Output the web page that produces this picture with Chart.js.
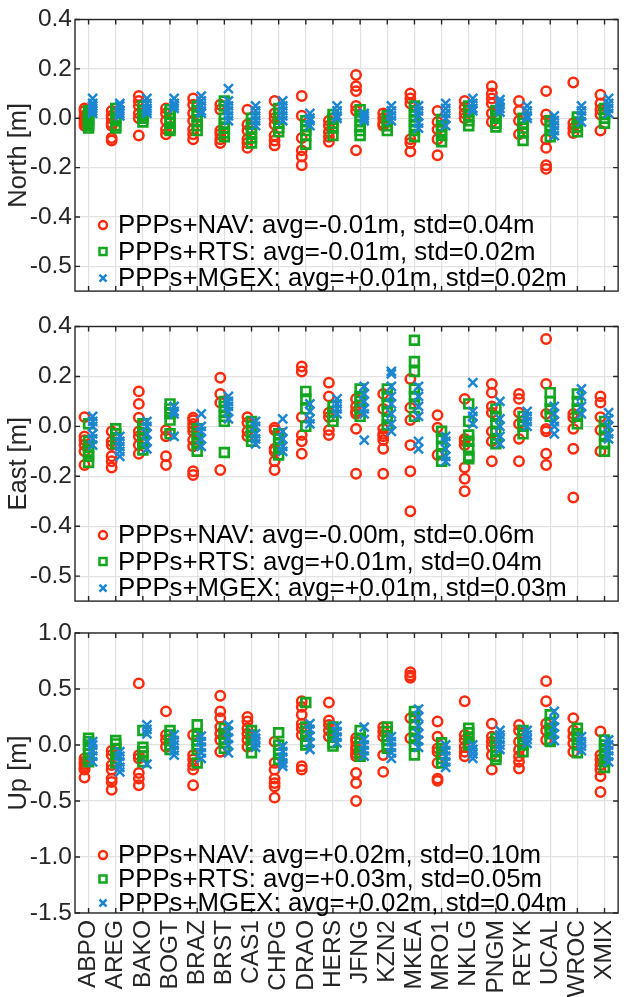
<!DOCTYPE html>
<html>
<head>
<meta charset="utf-8">
<title>PPP station errors</title>
<script src="https://cdn.jsdelivr.net/npm/chart.js@4.4.1/dist/chart.umd.min.js"></script>
<style>
  html, body { margin: 0; padding: 0; background: #fff; }
  #wrap { position: relative; width: 627px; height: 997px; overflow: hidden; }
  #wrap canvas { position: absolute; left: 0; }
</style>
</head>
<body>
<div id="wrap">
  <canvas id="northChart" width="627" height="300" style="top:0px"></canvas>
  <canvas id="eastChart" width="627" height="310" style="top:300px"></canvas>
  <canvas id="upChart" width="627" height="387" style="top:610px"></canvas>
</div>
<script>
// Stations along the x axis
const stations = ['ABPO', 'AREG', 'BAKO', 'BOGT', 'BRAZ', 'BRST', 'CAS1', 'CHPG', 'DRAO', 'HERS',
  'JFNG', 'KZN2', 'MKEA', 'MRO1', 'NKLG', 'PNGM', 'REYK', 'UCAL', 'WROC', 'XMIX'];

// North errors [m], one list per station
const northNav = [
  [0.04, 0.03, 0.01, 0.0, -0.01, -0.02, -0.03],
  [0.03, 0.01, 0.0, -0.02, -0.03, -0.08, -0.09],
  [0.09, 0.07, 0.05, 0.02, 0.0, -0.07],
  [0.04, 0.02, -0.01, -0.045, -0.065],
  [0.08, 0.055, 0.02, -0.01, -0.045, -0.065, -0.085],
  [0.055, 0.035, -0.05, -0.065, -0.085, -0.1],
  [0.035, -0.025, -0.05, -0.085, -0.1, -0.12],
  [0.07, 0.02, 0.0, -0.025, -0.07, -0.09, -0.11],
  [0.09, 0.01, -0.08, -0.13, -0.155, -0.19],
  [-0.01, -0.03, -0.055, -0.075, -0.095],
  [0.175, 0.13, 0.11, 0.05, 0.03, -0.13],
  [0.02, 0.0, -0.02, -0.03],
  [0.1, 0.08, 0.06, -0.085, -0.1, -0.135],
  [0.03, -0.015, -0.045, -0.085, -0.15],
  [0.07, 0.045, 0.02, 0.0],
  [0.13, 0.1, 0.08, 0.06, 0.02, -0.015],
  [0.07, 0.03, -0.01, -0.065],
  [0.11, 0.015, -0.01, -0.085, -0.12, -0.19, -0.205],
  [0.145, -0.02, -0.04, -0.06],
  [0.095, 0.06, 0.035, 0.015, -0.05]
];
const northRts = [
  [0.03, 0.02, 0.01, 0.0, -0.01, -0.02, -0.03, -0.04],
  [0.04, 0.02, 0.0, -0.01, -0.03, -0.04],
  [0.05, 0.03, 0.01, 0.0, -0.015],
  [0.035, 0.02, 0.0, -0.02, -0.04, -0.05],
  [0.05, 0.03, 0.01, -0.01, -0.03, -0.05],
  [0.07, 0.05, 0.0, -0.02, -0.04, -0.06, -0.075],
  [0.0, -0.02, -0.04, -0.06, -0.08, -0.1],
  [0.04, 0.02, 0.0, -0.02, -0.04, -0.055],
  [-0.01, -0.03, -0.05, -0.07, -0.105],
  [0.015, 0.0, -0.02, -0.04, -0.07],
  [0.035, 0.01, -0.01, -0.03, -0.05, -0.07],
  [0.01, -0.01, -0.03, -0.05],
  [0.05, 0.03, 0.01, -0.01, -0.03, -0.05, -0.075],
  [-0.005, -0.03, -0.05, -0.07, -0.095],
  [0.05, 0.03, 0.01, -0.01, -0.03],
  [0.03, 0.01, 0.0, -0.02, -0.035],
  [0.0, -0.02, -0.04, -0.06, -0.09],
  [-0.01, -0.03, -0.05, -0.075],
  [0.005, -0.015, -0.035, -0.055],
  [0.04, 0.02, 0.0, -0.02]
];
const northMgex = [
  [0.08, 0.06, 0.05, 0.04, 0.03, 0.02],
  [0.06, 0.05, 0.03, 0.02, 0.01],
  [0.08, 0.06, 0.04, 0.03, 0.02],
  [0.08, 0.06, 0.05, 0.04],
  [0.09, 0.07, 0.05, 0.03, 0.02],
  [0.12, 0.07, 0.05, 0.03, 0.01, -0.01],
  [0.05, 0.03, 0.01, -0.01, -0.03],
  [0.07, 0.05, 0.03, 0.01, -0.01],
  [0.02, 0.0, -0.01, -0.03],
  [0.05, 0.03, 0.01, 0.0],
  [0.02, 0.01, 0.0, -0.01],
  [0.05, 0.03, 0.01, -0.01],
  [0.05, 0.03, 0.01, -0.02, -0.04],
  [0.06, 0.04, 0.02, 0.0, -0.03],
  [0.08, 0.06, 0.04, 0.03],
  [0.075, 0.06, 0.04, 0.025],
  [0.05, 0.03, 0.01, 0.0],
  [0.01, -0.01, -0.03, -0.05, -0.07],
  [0.05, 0.03, 0.01, -0.015],
  [0.08, 0.06, 0.04, 0.02]
];

// East errors [m]
const eastNav = [
  [0.037, -0.04, -0.055, -0.075, -0.1, -0.155],
  [-0.02, -0.06, -0.075, -0.12, -0.14, -0.165],
  [0.14, 0.09, 0.035, -0.02, -0.04, -0.075, -0.11],
  [-0.015, -0.04, -0.12, -0.155],
  [0.035, 0.025, 0.01, -0.005, -0.02, -0.055, -0.08, -0.18, -0.195],
  [0.195, 0.13, 0.095, -0.175],
  [0.037, 0.015, -0.02, -0.04],
  [-0.005, -0.015, -0.09, -0.1, -0.14, -0.175],
  [0.24, 0.22, 0.037, -0.035, -0.06, -0.11],
  [0.175, 0.12, 0.055, 0.037, -0.015, -0.035],
  [0.11, 0.08, 0.06, 0.05, -0.01, -0.19],
  [0.13, 0.07, -0.01, -0.03, -0.04, -0.055, -0.09, -0.19],
  [0.19, 0.075, 0.025, -0.075, -0.18, -0.34],
  [0.045, -0.005, -0.115],
  [0.11, -0.05, -0.06, -0.075, -0.165, -0.21, -0.26],
  [0.17, 0.135, 0.08, 0.055, -0.02, -0.06, -0.14],
  [0.13, 0.11, 0.055, 0.01, -0.05, -0.14],
  [0.35, 0.17, 0.05, -0.01, -0.02, -0.11, -0.155],
  [0.05, 0.035, -0.01, -0.09, -0.285],
  [0.12, 0.095, 0.037, -0.015, -0.1]
];
const eastRts = [
  [0.01, -0.06, -0.08, -0.1, -0.12, -0.145],
  [-0.01, -0.03, -0.05, -0.07],
  [0.01, -0.01, -0.03, -0.05, -0.07, -0.095],
  [0.09, 0.07, 0.05, 0.025, -0.03],
  [-0.01, -0.03, -0.05, -0.07, -0.1],
  [0.1, 0.08, 0.06, 0.04, 0.02, -0.105],
  [0.02, 0.0, -0.02, -0.04, -0.06],
  [-0.03, -0.05, -0.07, -0.09, -0.115],
  [0.14, 0.11, 0.07, 0.0],
  [0.08, 0.06, 0.04, 0.02],
  [0.15, 0.12, 0.1, 0.07, 0.04],
  [0.15, 0.12, 0.09, 0.06, 0.03, 0.005],
  [0.345, 0.26, 0.22, 0.15, 0.12, 0.09, 0.04],
  [-0.02, -0.05, -0.08, -0.11, -0.14],
  [0.09, 0.02, -0.035, -0.06, -0.09, -0.12, -0.13],
  [0.07, 0.04, 0.01, -0.02, -0.05, -0.07],
  [0.04, 0.02, 0.0, -0.03],
  [0.135, 0.1, 0.07, 0.04],
  [0.13, 0.1, 0.07, 0.04, 0.01],
  [0.02, -0.01, -0.04, -0.07, -0.1]
];
const eastMgex = [
  [0.04, 0.02, 0.0, -0.03, -0.05, -0.075],
  [-0.04, -0.06, -0.08, -0.1, -0.12],
  [0.02, 0.0, -0.03, -0.06, -0.09],
  [0.08, 0.06, 0.05, -0.04],
  [0.05, 0.0, -0.02, -0.05, -0.08],
  [0.12, 0.1, 0.08, 0.06, 0.03],
  [0.02, 0.0, -0.03, -0.05, -0.07],
  [0.03, -0.02, -0.05, -0.08, -0.1],
  [0.09, 0.06, 0.03, 0.01],
  [0.11, 0.09, 0.07, 0.05],
  [0.16, 0.13, 0.1, 0.07, 0.05, -0.055],
  [0.22, 0.21, 0.16, 0.12, 0.09, 0.05, 0.01, -0.02],
  [0.16, 0.12, 0.08, 0.04, -0.06, -0.09],
  [-0.04, -0.06, -0.09, -0.12, -0.14],
  [0.175, 0.06, 0.04, 0.01],
  [0.1, 0.03, 0.0, -0.04, -0.07],
  [0.06, 0.04, 0.02, 0.0],
  [0.08, 0.05, 0.02, 0.0, -0.03],
  [0.15, 0.12, 0.08, 0.05],
  [0.055, 0.03, 0.0, -0.03, -0.05]
];

// Up errors [m]
const upNav = [
  [-0.12, -0.15, -0.17, -0.19, -0.21, -0.22, -0.29],
  [-0.05, -0.09, -0.18, -0.22, -0.3, -0.33, -0.4],
  [0.55, -0.09, -0.12, -0.25, -0.3, -0.36],
  [0.3, 0.09, 0.045, -0.015],
  [0.09, -0.09, -0.13, -0.18, -0.22, -0.36],
  [0.44, 0.3, 0.24, 0.16, 0.1, 0.045, -0.06],
  [0.25, 0.21, 0.15, 0.1, 0.045, -0.015],
  [0.03, -0.16, -0.22, -0.3, -0.34, -0.37, -0.47],
  [0.39, 0.34, 0.27, 0.19, 0.15, 0.09, -0.19, -0.22],
  [0.38, 0.22, 0.18, 0.13, 0.075],
  [0.06, 0.03, -0.015, -0.045, -0.075, -0.1, -0.25, -0.34, -0.5],
  [0.16, 0.12, 0.075, -0.09, -0.24],
  [0.65, 0.62, 0.6, 0.24, 0.06],
  [0.21, 0.075, -0.03, -0.06, -0.16, -0.3, -0.32],
  [0.39, 0.09, 0.045, -0.015, -0.06, -0.1],
  [0.19, 0.075, 0.03, -0.015, -0.09, -0.22],
  [0.18, 0.13, 0.03, -0.045, -0.1, -0.15, -0.21],
  [0.57, 0.39, 0.19, 0.13, 0.045],
  [0.24, 0.13, 0.075, 0.015, -0.06],
  [0.12, -0.09, -0.13, -0.18, -0.22, -0.28, -0.42]
];
const upRts = [
  [0.06, 0.03, 0.0, -0.04, -0.08, -0.12, -0.15],
  [0.04, 0.01, -0.03, -0.07, -0.12, -0.16],
  [0.13, -0.02, -0.06, -0.1, -0.15],
  [0.13, 0.09, 0.05, 0.0, -0.04],
  [0.18, 0.08, 0.04, 0.0, -0.04, -0.16],
  [0.15, 0.1, 0.06, 0.02, -0.03],
  [0.13, 0.09, 0.05, 0.0, -0.07],
  [0.11, 0.0, -0.04, -0.08, -0.13],
  [0.38, 0.16, 0.12, 0.08, 0.03, 0.0],
  [0.16, 0.11, 0.07, 0.02, -0.01],
  [0.13, 0.06, 0.02, -0.02, -0.07, -0.1],
  [0.16, 0.12, 0.08, 0.04, 0.0, -0.03],
  [0.3, 0.25, 0.18, 0.12, 0.06, 0.0, -0.09],
  [0.02, -0.03, -0.08, -0.12, -0.16],
  [0.15, 0.11, 0.06, 0.02, 0.0],
  [0.06, 0.02, -0.02, -0.06, -0.1, -0.13],
  [0.13, 0.09, 0.05, 0.0, -0.06],
  [0.27, 0.2, 0.15, 0.1, 0.05, 0.03],
  [0.15, 0.1, 0.05, 0.0, -0.07],
  [0.045, 0.0, -0.05, -0.1, -0.15, -0.2]
];
const upMgex = [
  [0.03, 0.0, -0.05, -0.1, -0.15],
  [-0.06, -0.1, -0.15, -0.2, -0.24],
  [0.18, 0.14, 0.1, -0.17],
  [0.09, 0.04, 0.0, -0.05, -0.09],
  [0.08, 0.03, -0.02, -0.07, -0.12],
  [0.18, 0.12, 0.06, 0.0, -0.07],
  [0.1, 0.06, 0.02, -0.02],
  [-0.01, -0.06, -0.11, -0.16, -0.19],
  [0.19, 0.14, 0.08, 0.02, -0.04],
  [0.17, 0.12, 0.07, 0.02],
  [0.16, 0.05, 0.0, -0.05, -0.1],
  [0.075, 0.03, -0.02, -0.07, -0.12],
  [0.32, 0.25, 0.17, 0.1, 0.04, -0.02],
  [0.0, -0.05, -0.1, -0.15, -0.2],
  [0.0, -0.04, -0.08, -0.12],
  [0.13, 0.09, 0.05, 0.0, -0.04],
  [0.13, 0.09, 0.05, 0.015],
  [0.3, 0.22, 0.16, 0.1, 0.04],
  [0.075, 0.03, -0.01, -0.05],
  [0.045, 0.0, -0.05, -0.1, -0.15]
];

// Y tick values and the labels printed next to them
const northTicks = [-0.6, -0.4, -0.2, 0, 0.2, 0.4];
const northTickLabels = ['-0.5', '-0.4', '-0.2', '0.0', '0.2', '0.4'];
const eastTicks = [-0.6, -0.4, -0.2, 0, 0.2, 0.4];
const eastTickLabels = ['-0.5', '-0.4', '-0.2', '0.0', '0.2', '0.4'];
const upTicks = [-1.5, -1, -0.5, 0, 0.5, 1];
const upTickLabels = ['-1.5', '-1.0', '-0.5', '0.0', '0.5', '1.0'];

// Legend entries with the statistics of each solution
const northLegend = ['PPPs+NAV: avg=-0.01m, std=0.04m', 'PPPs+RTS: avg=-0.01m, std=0.02m', 'PPPs+MGEX: avg=+0.01m, std=0.02m'];
const eastLegend = ['PPPs+NAV: avg=-0.00m, std=0.06m', 'PPPs+RTS: avg=+0.01m, std=0.04m', 'PPPs+MGEX: avg=+0.01m, std=0.03m'];
const upLegend = ['PPPs+NAV: avg=+0.02m, std=0.10m', 'PPPs+RTS: avg=+0.03m, std=0.05m', 'PPPs+MGEX: avg=+0.02m, std=0.04m'];

const RED = '#ff2a0c';
const GREEN = '#13a61f';
const BLUE = '#1b87d3';
const AXIS = '#262626';
const GRID = '#e2e2e2';
const FONT = "'Liberation Sans', Arial, sans-serif";

// flatten per-station lists into scatter points, nudged sideways per series
function toPoints(groups, shift) {
  const pts = [];
  groups.forEach((vals, i) => vals.forEach(v => pts.push({ x: i + shift, y: v })));
  return pts;
}

function makeDatasets(nav, rts, mgex, labels) {
  return [
    { label: labels[0], data: toPoints(nav, -0.15), pointStyle: 'circle', pointRadius: 4.7,
      pointBorderWidth: 2.5, pointBorderColor: RED, borderColor: RED, pointBackgroundColor: 'rgba(0,0,0,0)', order: 3 },
    { label: labels[1], data: toPoints(rts, 0), pointStyle: 'rect', pointRadius: 6.2,
      pointBorderWidth: 2.7, pointBorderColor: GREEN, borderColor: GREEN, pointBackgroundColor: 'rgba(0,0,0,0)', order: 2 },
    { label: labels[2], data: toPoints(mgex, 0.15), pointStyle: 'crossRot', pointRadius: 6.4,
      pointBorderWidth: 2.5, pointBorderColor: BLUE, borderColor: BLUE, pointBackgroundColor: 'rgba(0,0,0,0)', order: 1 }
  ];
}

// box around the axes with inward tick marks on all four sides
const axesBox = {
  id: 'axesBox',
  afterDraw(chart) {
    const { ctx, chartArea: a, scales } = chart;
    const len = 5;
    ctx.save();
    ctx.strokeStyle = AXIS;
    ctx.lineWidth = 1.4;
    ctx.beginPath();
    scales.x.ticks.forEach(t => {
      const px = scales.x.getPixelForValue(t.value);
      ctx.moveTo(px, a.top); ctx.lineTo(px, a.top + len);
      ctx.moveTo(px, a.bottom); ctx.lineTo(px, a.bottom - len);
    });
    scales.y.ticks.forEach(t => {
      const py = scales.y.getPixelForValue(t.value);
      ctx.moveTo(a.left, py); ctx.lineTo(a.left + len, py);
      ctx.moveTo(a.right, py); ctx.lineTo(a.right - len, py);
    });
    ctx.stroke();
    ctx.strokeRect(a.left, a.top, a.right - a.left, a.bottom - a.top);
    ctx.restore();
  }
};

// legend drawn inside the lower left corner of the axes
const insideLegend = {
  id: 'insideLegend',
  afterDraw(chart, args, opts) {
    const { ctx, chartArea: a } = chart;
    ctx.save();
    ctx.font = opts.size + 'px ' + FONT;
    ctx.textBaseline = 'middle';
    ctx.textAlign = 'left';
    chart.data.datasets.forEach((ds, i) => {
      const y = a.bottom + opts.rows[i];
      const x = a.left + 28;
      ctx.strokeStyle = ds.pointBorderColor;
      ctx.lineWidth = 2.5;
      ctx.beginPath();
      if (ds.pointStyle === 'circle') {
        ctx.arc(x, y, 4, 0, Math.PI * 2);
      } else if (ds.pointStyle === 'rect') {
        ctx.rect(x - 3.5, y - 3.5, 7, 7);
      } else {
        ctx.moveTo(x - 3.5, y - 3.5); ctx.lineTo(x + 3.5, y + 3.5);
        ctx.moveTo(x + 3.5, y - 3.5); ctx.lineTo(x - 3.5, y + 3.5);
      }
      ctx.stroke();
      ctx.fillStyle = '#000';
      ctx.fillText(ds.label, a.left + 43, y + 1);
    });
    ctx.restore();
  }
};

function makePanel(id, cfg) {
  return new Chart(document.getElementById(id), {
    type: 'scatter',
    data: { datasets: makeDatasets(cfg.nav, cfg.rts, cfg.mgex, cfg.legend) },
    options: {
      responsive: false,
      animation: false,
      events: [],
      layout: { padding: cfg.padding },
      plugins: {
        legend: { display: false },
        tooltip: { enabled: false },
        insideLegend: { rows: cfg.legendRows, size: 25.8 }
      },
      scales: {
        x: {
          type: 'linear',
          min: -0.5,
          max: 19.5,
          afterBuildTicks: s => { s.ticks = stations.map((_, i) => ({ value: i })); },
          afterFit: s => { s.height = cfg.xHeight; s.paddingLeft = 0; s.paddingRight = 0; },
          grid: { color: GRID, lineWidth: 1.2, drawTicks: false },
          border: { display: false },
          ticks: {
            display: cfg.showStations,
            autoSkip: false,
            minRotation: 90,
            maxRotation: 90,
            padding: 7,
            color: AXIS,
            font: { family: FONT, size: 24.5 },
            callback: v => stations[v]
          }
        },
        y: {
          min: cfg.min,
          max: cfg.max,
          afterBuildTicks: s => { s.ticks = cfg.ticks.map(v => ({ value: v })); },
          afterFit: s => { s.width = 75; s.paddingTop = 0; s.paddingBottom = 0; },
          grid: { color: GRID, lineWidth: 1.2, drawTicks: false },
          border: { display: false },
          ticks: {
            padding: 3,
            color: AXIS,
            font: { family: FONT, size: 24.5 },
            callback: (v, i) => cfg.tickLabels[i]
          },
          title: {
            display: true,
            text: cfg.title,
            color: AXIS,
            padding: { top: 4, bottom: 0 },
            font: { family: FONT, size: 25.5 }
          }
        }
      }
    },
    plugins: [axesBox, insideLegend]
  });
}

makePanel('northChart', {
  nav: northNav, rts: northRts, mgex: northMgex, legend: northLegend,
  ticks: northTicks, tickLabels: northTickLabels, min: -0.7, max: 0.4,
  title: 'North [m]', showStations: false, xHeight: 0,
  padding: { top: 19.5, bottom: 1.7, left: 0, right: 0.5 },
  legendRows: [-66, -39.5, -13]
});

makePanel('eastChart', {
  nav: eastNav, rts: eastRts, mgex: eastMgex, legend: eastLegend,
  ticks: eastTicks, tickLabels: eastTickLabels, min: -0.7, max: 0.4,
  title: 'East [m]', showStations: false, xHeight: 0,
  padding: { top: 26.5, bottom: 4.5, left: 0, right: 0.5 },
  legendRows: [-66, -39.5, -13]
});

makePanel('upChart', {
  nav: upNav, rts: upRts, mgex: upMgex, legend: upLegend,
  ticks: upTicks, tickLabels: upTickLabels, min: -1.5, max: 1.0,
  title: 'Up [m]', showStations: true, xHeight: 84,
  padding: { top: 23, bottom: 0, left: 0, right: 0.5 },
  legendRows: [-58, -34, -10]
});
</script>
</body>
</html>
